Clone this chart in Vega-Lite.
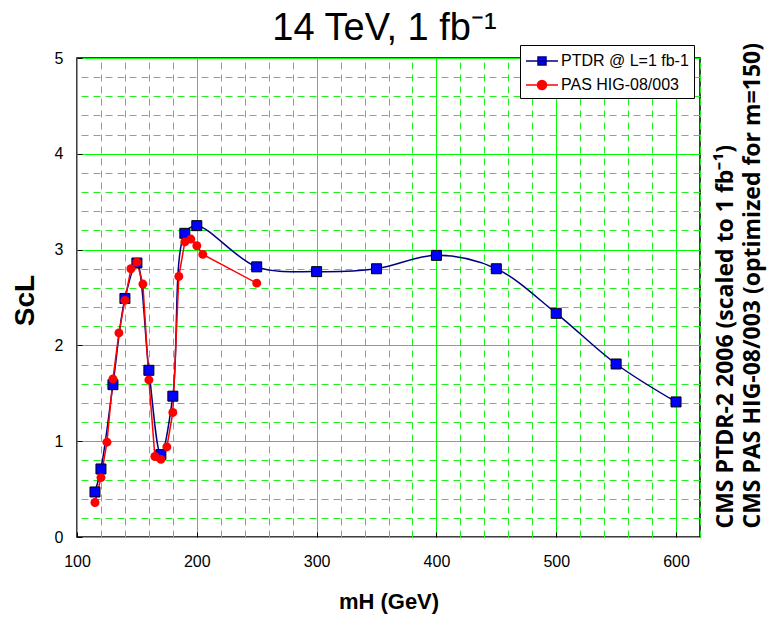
{
  "$schema": "https://vega.github.io/schema/vega-lite/v6.json",
  "width": 623,
  "height": 479,
  "autosize": {"type": "none"},
  "padding": {"left": 77, "top": 58, "right": 69, "bottom": 80},
  "background": "white",
  "title": {"text": "14 TeV, 1 fb⁻¹", "fontSize": 38, "font": "Liberation Sans", "fontWeight": "normal", "offset": 16, "dy": 22, "dx": -4, "anchor": "middle", "frame": "group", "color": "black"},
  "config": {"view": {"stroke": "black", "strokeWidth": 1.5}, "font": "Liberation Sans"},
  "data": {"values": [
    {"series": "PTDR @ L=1 fb-1", "m": 115, "s": 0.47},
    {"series": "PTDR @ L=1 fb-1", "m": 120, "s": 0.71},
    {"series": "PTDR @ L=1 fb-1", "m": 130, "s": 1.59},
    {"series": "PTDR @ L=1 fb-1", "m": 140, "s": 2.49},
    {"series": "PTDR @ L=1 fb-1", "m": 150, "s": 2.86},
    {"series": "PTDR @ L=1 fb-1", "m": 160, "s": 1.74},
    {"series": "PTDR @ L=1 fb-1", "m": 170, "s": 0.86},
    {"series": "PTDR @ L=1 fb-1", "m": 180, "s": 1.47},
    {"series": "PTDR @ L=1 fb-1", "m": 190, "s": 3.17},
    {"series": "PTDR @ L=1 fb-1", "m": 200, "s": 3.25},
    {"series": "PTDR @ L=1 fb-1", "m": 250, "s": 2.82},
    {"series": "PTDR @ L=1 fb-1", "m": 300, "s": 2.77},
    {"series": "PTDR @ L=1 fb-1", "m": 350, "s": 2.80},
    {"series": "PTDR @ L=1 fb-1", "m": 400, "s": 2.94},
    {"series": "PTDR @ L=1 fb-1", "m": 450, "s": 2.80},
    {"series": "PTDR @ L=1 fb-1", "m": 500, "s": 2.335},
    {"series": "PTDR @ L=1 fb-1", "m": 550, "s": 1.806},
    {"series": "PTDR @ L=1 fb-1", "m": 600, "s": 1.41},
    {"series": "PAS HIG-08/003", "m": 115, "s": 0.36},
    {"series": "PAS HIG-08/003", "m": 120, "s": 0.62},
    {"series": "PAS HIG-08/003", "m": 125, "s": 0.99},
    {"series": "PAS HIG-08/003", "m": 130, "s": 1.65},
    {"series": "PAS HIG-08/003", "m": 135, "s": 2.13},
    {"series": "PAS HIG-08/003", "m": 140, "s": 2.47},
    {"series": "PAS HIG-08/003", "m": 145, "s": 2.80},
    {"series": "PAS HIG-08/003", "m": 150, "s": 2.87},
    {"series": "PAS HIG-08/003", "m": 155, "s": 2.64},
    {"series": "PAS HIG-08/003", "m": 160, "s": 1.64},
    {"series": "PAS HIG-08/003", "m": 165, "s": 0.84},
    {"series": "PAS HIG-08/003", "m": 170, "s": 0.81},
    {"series": "PAS HIG-08/003", "m": 175, "s": 0.94},
    {"series": "PAS HIG-08/003", "m": 180, "s": 1.30},
    {"series": "PAS HIG-08/003", "m": 185, "s": 2.72},
    {"series": "PAS HIG-08/003", "m": 190, "s": 3.08},
    {"series": "PAS HIG-08/003", "m": 195, "s": 3.11},
    {"series": "PAS HIG-08/003", "m": 200, "s": 3.04},
    {"series": "PAS HIG-08/003", "m": 205, "s": 2.95},
    {"series": "PAS HIG-08/003", "m": 250, "s": 2.65}
  ]},
  "layer": [
    {
      "transform": [{"filter": "datum.series === 'PTDR @ L=1 fb-1'"}],
      "mark": {"type": "line", "interpolate": "catmull-rom", "strokeWidth": 1.5},
      "encoding": {
        "x": {"field": "m", "type": "quantitative", "scale": {"domain": [100, 620], "nice": false, "zero": false},
          "axis": {"values": [100, 200, 300, 400, 500, 600], "format": "d",
            "grid": true, "gridColor": "#00FF00", "gridWidth": 1,
            "domain": false, "ticks": true, "tickColor": "black", "tickSize": -5,
            "labelFontSize": 16, "labelColor": "black", "labelPadding": 21, "labelFlush": false, "labelOverlap": false,
            "title": "mH (GeV)", "titleFontSize": 22, "titleFontWeight": "bold", "titleColor": "black", "titleY": 64, "titleBaseline": "middle"}},
        "y": {"field": "s", "type": "quantitative", "scale": {"domain": [0, 5], "nice": false},
          "axis": {"values": [0, 1, 2, 3, 4, 5], "format": "d",
            "grid": true, "gridColor": "#00FF00", "gridWidth": 1,
            "domain": false, "ticks": true, "tickColor": "black", "tickSize": -5,
            "labelFontSize": 16, "labelColor": "black", "labelPadding": 19, "labelOverlap": false,
            "title": "ScL", "titleFontSize": 28, "titleFontWeight": "bold", "titleColor": "black",
            "titleAngle": -90, "titleX": -52, "titleY": 242, "titleAlign": "center", "titleBaseline": "middle"}},
        "stroke": {"field": "series", "type": "nominal",
          "scale": {"domain": ["PTDR @ L=1 fb-1", "PAS HIG-08/003"], "range": ["#000080", "#FF0000"]},
          "legend": {"orient": "none", "legendX": 443, "legendY": -13, "title": null, "direction": "vertical",
            "fillColor": "white", "strokeColor": "black", "padding": 5, "labelFontSize": 16, "labelFont": "Liberation Sans",
            "labelColor": "black", "symbolSize": 400, "symbolOffset": 6, "labelOffset": 8, "rowPadding": 5, "symbolStrokeWidth": 1.5,
            "encode": {"symbols": {"update": {
              "shape": {"signal": "datum.value === 'PTDR @ L=1 fb-1' ? 'M-1.6,0L1.6,0M-0.4,-0.4L0.4,-0.4L0.4,0.4L-0.4,0.4Z' : 'M-1.6,0L1.6,0M0.45,0A0.45,0.45,0,1,1,-0.45,0A0.45,0.45,0,1,1,0.45,0Z'"},
              "fill": {"signal": "datum.value === 'PTDR @ L=1 fb-1' ? '#0000FF' : '#FF0000'"},
              "fillOpacity": {"value": 1}
            }}}}}
      }
    },
    {
      "transform": [{"filter": "datum.series === 'PAS HIG-08/003'"}],
      "mark": {"type": "line", "interpolate": "linear", "strokeWidth": 1.5},
      "encoding": {
        "x": {"field": "m", "type": "quantitative",
          "axis": {"orient": "top", "values": [120,140,160,180,220,240,260,280,320,340,360,380,420,440,460,480,520,540,560,580,620],
            "labels": false, "ticks": false, "domain": false, "title": null,
            "grid": true, "gridColor": "#22EE22", "gridWidth": 1, "gridDash": [7, 5]}},
        "y": {"field": "s", "type": "quantitative", "axis": null},
        "stroke": {"field": "series", "type": "nominal"}
      }
    },
    {
      "transform": [{"filter": "datum.series === 'PTDR @ L=1 fb-1'"}],
      "mark": {"type": "point", "shape": "square", "filled": true, "fill": "#0000FF", "stroke": "#000000", "strokeWidth": 1, "size": 100, "opacity": 1},
      "encoding": {
        "x": {"field": "m", "type": "quantitative", "axis": null},
        "y": {"field": "s", "type": "quantitative", "axis": null}
      }
    },
    {
      "transform": [{"filter": "datum.series === 'PAS HIG-08/003'"}],
      "mark": {"type": "circle", "fill": "#FF0000", "size": 80, "opacity": 1},
      "encoding": {
        "x": {"field": "m", "type": "quantitative", "axis": null},
        "y": {"field": "s", "type": "quantitative",
          "axis": {"orient": "right", "values": [0.2,0.4,0.6,0.8,1.2,1.4,1.6,1.8,2.2,2.4,2.6,2.8,3.2,3.4,3.6,3.8,4.2,4.4,4.6,4.8],
            "labels": false, "ticks": false, "domain": false,
            "grid": true, "gridColor": "#22EE22", "gridWidth": 1, "gridDash": [7, 5],
            "title": ["CMS PTDR-2 2006 (scaled to 1 fb⁻¹)", "CMS PAS HIG-08/003 (optimized for m=150)"],
            "titleAngle": -90, "titleFont": "Open Sans", "titleFontWeight": "bold", "titleFontSize": 23, "titleColor": "black",
            "titleX": 25, "titleY": 470, "titleAlign": "left", "titleBaseline": "middle", "titleLineHeight": 27}}
      }
    }
  ],
  "resolve": {"axis": {"x": "independent", "y": "independent"}}
}
